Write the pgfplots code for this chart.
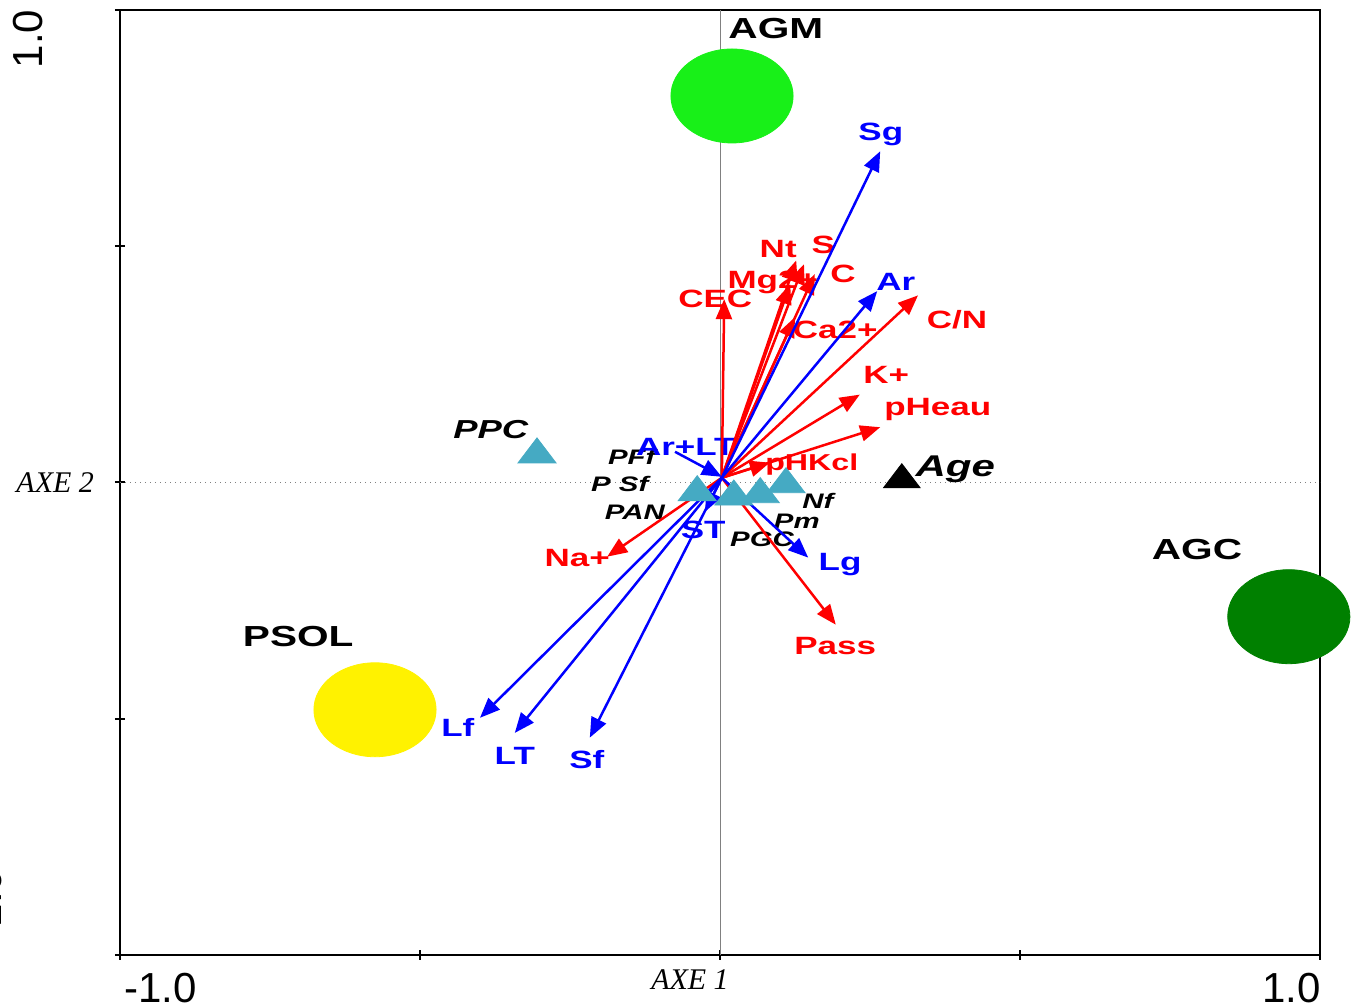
\documentclass[border=0pt]{standalone}
\usepackage{pgfplots}
\pgfplotsset{compat=1.18}
\usetikzlibrary{arrows.meta}
\usepackage{fontspec}
\setmainfont{Liberation Sans}
\newfontfamily\serif{Liberation Serif}
\newfontfamily\lab[FakeStretch=1.4]{Liberation Sans}
\definecolor{tri}{RGB}{69,170,195}
\definecolor{lime}{RGB}{24,240,24}
\definecolor{dgreen}{RGB}{0,128,0}
\tikzset{
  lab/.style={font=\lab\bfseries\fontsize{12.5}{12.5}\selectfont, inner sep=0pt},
  big/.style={font=\lab\bfseries\fontsize{14.5}{14.5}\selectfont, inner sep=0pt},
  sm/.style={font=\lab\bfseries\itshape\fontsize{10.5}{10.5}\selectfont, inner sep=0pt},
  arr/.style={line width=1.25pt, -{Triangle[length=10pt,width=8pt]}},
}
\begin{document}
\begin{tikzpicture}
\useasboundingbox (-60pt,-24.5pt) rectangle (616pt,477.5pt);
\begin{axis}[
  at={(0,0)}, anchor=south west, scale only axis,
  width=600pt, height=472.5pt,
  xmin=-1, xmax=1, ymin=-1, ymax=1, clip=false,
  xtick={-1,-0.5,0,0.5,1}, ytick={-1,-0.5,0,0.5,1},
  xticklabels={}, yticklabels={},
  tick pos=left,
  tick align=center, major tick length=5pt,
  axis line style={line width=1.2pt},
  tick style={line width=1pt, black},
]
% reference lines
\addplot[gray, line width=0.5pt] coordinates {(0,-1) (0,1)};
\addplot[gray, dotted, line width=0.5pt] coordinates {(-1,0) (1,0)};

% ellipses (samples)
\addplot[only marks, mark=*, mark size=23.5pt, mark options={xscale=1.3, draw=lime, fill=lime}] coordinates {(0.02,0.818)};
\addplot[only marks, mark=*, mark size=23.5pt, mark options={xscale=1.3, draw=yellow, fill=yellow}] coordinates {(-0.575,-0.481)};
\addplot[only marks, mark=*, mark size=23.5pt, mark options={xscale=1.3, draw=dgreen, fill=dgreen}] coordinates {(0.948,-0.284)};

% triangles
\addplot[only marks, mark=triangle*, mark size=11pt, mark options={yscale=0.76, draw=tri, fill=tri}] coordinates {
 (-0.305,0.059) (-0.038,-0.021) (0.023,-0.030) (0.067,-0.025) (0.110,-0.004)};
\addplot[only marks, mark=triangle*, mark size=10.5pt, mark options={yscale=0.76, draw=black, fill=black}] coordinates {(0.303,0.006)};

% black labels
\node[big] at (axis cs:0.093,0.960) {AGM};
\node[big] at (axis cs:-0.703,-0.326) {PSOL};
\node[big] at (axis cs:0.795,-0.142) {AGC};
\node[sm, font=\lab\bfseries\itshape\fontsize{13}{13}\selectfont] at (axis cs:-0.382,0.112) {PPC};
\node[sm] at (axis cs:-0.147,0.055) {PFf};
\node[sm] at (axis cs:-0.167,-0.004) {P Sf};
\node[sm] at (axis cs:-0.142,-0.064) {PAN};
\node[sm] at (axis cs:0.163,-0.038) {Nf};
\node[sm] at (axis cs:0.128,-0.083) {Pm};
\node[sm] at (axis cs:0.070,-0.121) {PGC};
\node[sm, font=\lab\bfseries\itshape\fontsize{15}{15}\selectfont] at (axis cs:0.392,0.028) {Age};

% red labels
\begin{scope}[red]
\node[lab] at (axis cs:0.097,0.494) {Nt};
\node[lab] at (axis cs:0.172,0.502) {S};
\node[lab] at (axis cs:0.088,0.424) {Mg2+};
\node[lab] at (axis cs:0.205,0.441) {C};
\node[lab] at (axis cs:-0.008,0.388) {CEC};
\node[lab] at (axis cs:0.192,0.324) {Ca2+};
\node[lab] at (axis cs:0.395,0.345) {C/N};
\node[lab] at (axis cs:0.277,0.227) {K+};
\node[lab] at (axis cs:0.363,0.155) {pHeau};
\node[lab, font=\lab\bfseries\fontsize{11.5}{11.5}\selectfont] at (axis cs:0.153,0.038) {pHKcl};
\node[lab] at (axis cs:-0.238,-0.159) {Na+};
\node[lab] at (axis cs:0.192,-0.347) {Pass};
\end{scope}
% blue labels
\begin{scope}[blue]
\node[lab] at (axis cs:0.268,0.737) {Sg};
\node[lab] at (axis cs:0.293,0.424) {Ar};
\node[lab] at (axis cs:0.200,-0.174) {Lg};
\node[lab] at (axis cs:-0.437,-0.519) {Lf};
\node[lab] at (axis cs:-0.342,-0.578) {LT};
\node[lab] at (axis cs:-0.222,-0.587) {Sf};
\node[lab] at (axis cs:-0.028,-0.100) {ST};
\node[lab] at (axis cs:-0.057,0.076) {Ar+LT};
\end{scope}

% red arrows
\addplot[red, arr] coordinates {(0.003,0.01) (0.007,0.388)};
\addplot[red, arr] coordinates {(0.003,0.01) (0.127,0.470)};
\addplot[red, arr] coordinates {(0.003,0.01) (0.140,0.462)};
\addplot[red, arr] coordinates {(0.003,0.01) (0.117,0.420)};
\addplot[red, arr] coordinates {(0.003,0.01) (0.158,0.441)};
\addplot[red, arr] coordinates {(0.003,0.01) (0.125,0.350)};
\addplot[red, arr] coordinates {(0.003,0.01) (0.330,0.396)};
\addplot[red, arr] coordinates {(0.003,0.01) (0.233,0.186)};
\addplot[red, arr] coordinates {(0.003,0.01) (0.267,0.117)};
\addplot[red, arr] coordinates {(0.003,0.01) (0.083,0.042)};
\addplot[red, arr] coordinates {(0.003,0.01) (-0.188,-0.157)};
\addplot[red, arr] coordinates {(0.003,0.01) (0.193,-0.301)};
% blue arrows
\addplot[blue, arr] coordinates {(0.003,0.01) (0.267,0.701)};
\addplot[blue, arr] coordinates {(0.003,0.01) (0.262,0.405)};
\addplot[blue, arr] coordinates {(0.003,0.01) (0.147,-0.159)};
\addplot[blue, arr] coordinates {(0.003,0.01) (-0.400,-0.498)};
\addplot[blue, arr] coordinates {(0.003,0.01) (-0.342,-0.530)};
\addplot[blue, arr] coordinates {(0.003,0.01) (-0.217,-0.540)};
\addplot[blue, arr] coordinates {(0.003,0.01) (-0.025,-0.062)};
\addplot[blue, arr] coordinates {(-0.075,0.065) (0.003,0.012)};

% axis texts
\node[font=\fontsize{21}{21}\selectfont, rotate=90] at (axis cs:-1.153,0.9386) {1.0};
\node[font=\fontsize{21}{21}\selectfont, rotate=90] at (axis cs:-1.222,-0.894) {-1.0};
\node[font=\serif\itshape\fontsize{15}{15}\selectfont] at (axis cs:-1.108,0) {AXE 2};
\node[font=\serif\itshape\fontsize{15}{15}\selectfont] at (axis cs:-0.05,-1.053) {AXE 1};
\node[font=\fontsize{21}{21}\selectfont] at (axis cs:-0.933,-1.07) {-1.0};
\node[font=\fontsize{21}{21}\selectfont] at (axis cs:0.953,-1.07) {1.0};
\end{axis}
\end{tikzpicture}
\end{document}
